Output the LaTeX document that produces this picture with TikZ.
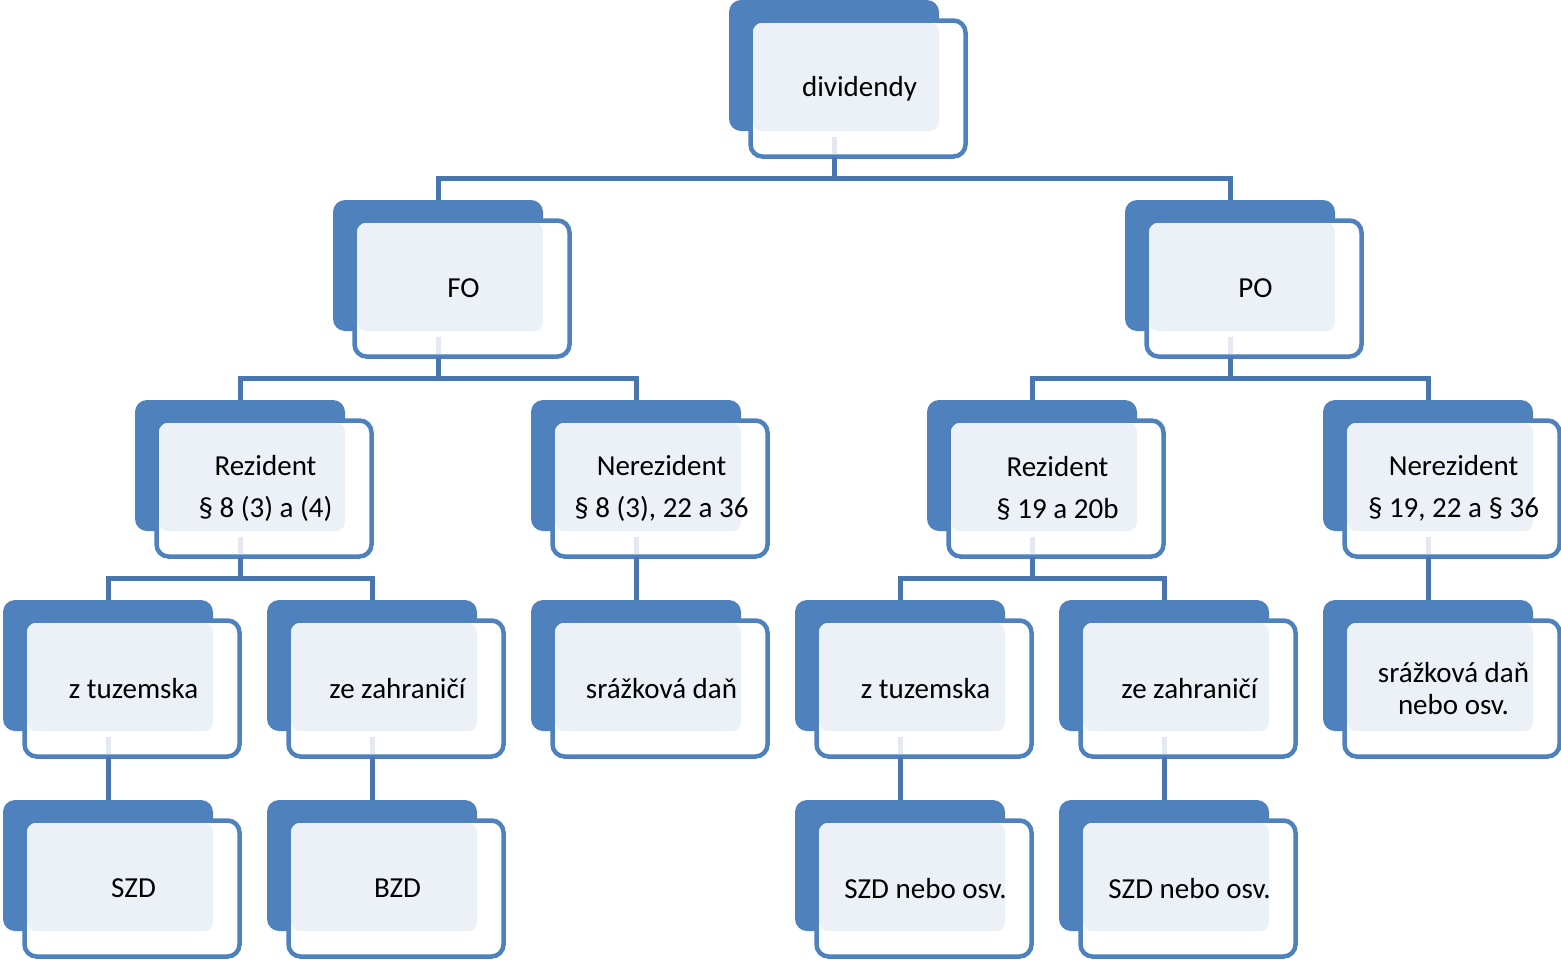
\documentclass[tikz,border=0pt]{standalone}
\usepackage{fontspec}
\setmainfont{Carlito}
\definecolor{darkb}{HTML}{4F81BD}
\definecolor{lightb}{HTML}{ECF0F7}
\definecolor{connc}{HTML}{4A76AF}
\definecolor{stubc}{HTML}{E4E9F1}
\tikzset{
  frame/.style={draw=darkb, line width=4.5pt, fill=white, rounded corners=12pt,
    minimum width=215pt, minimum height=136pt, inner sep=0pt},
  txt/.style={font=\fontsize{29}{33}\selectfont, align=center, text=black, inner sep=0pt},
  conn/.style={draw=connc, line width=5pt},
  stub/.style={draw=stubc, line width=5pt}
}
\newcommand\orgnode[4]{%
  \fill[darkb, rounded corners=12pt] (#1,#2) rectangle ({#1+210},{#2+131});
  \node[frame] (#3) at ({#1+129},{#2+88.5}) {};
  \fill[lightb, rounded corners=9pt] ({#1+24},{#2+23}) rectangle ({#1+210},{#2+131});
  \node[txt] (#3-t) at ({#1+130.5},{#2+88.5}) {#4};
  \coordinate (#3-top) at ({#1+105},#2);
  \coordinate (#3-bot) at ({#1+105},{#2+156.5});
}
\newcommand\stubline[2]{\draw[stub] ({#1+105},{#2+137}) -- ({#1+105},{#2+154});}
\begin{document}
\begin{tikzpicture}[x=1pt,y=-1pt]
\useasboundingbox (0,0) rectangle (1561,959);
\orgnode{729}{0}{div}{dividendy}
\orgnode{333}{200}{fo}{FO}
\orgnode{1125}{200}{po}{PO}
\orgnode{135}{400}{rfo}{Rezident\\[9pt]§ 8 (3) a (4)}
\orgnode{531}{400}{nfo}{Nerezident\\[9pt]§ 8 (3), 22 a 36}
\orgnode{927}{400}{rpo}{Rezident\\[9pt]§ 19 a 20b}
\orgnode{1323}{400}{npo}{Nerezident\\[9pt]§ 19, 22 a § 36}
\orgnode{3}{600}{tfo}{z tuzemska}
\orgnode{267}{600}{zfo}{ze zahraničí}
\orgnode{531}{600}{sfo}{srážková daň}
\orgnode{795}{600}{tpo}{z tuzemska}
\orgnode{1059}{600}{zpo}{ze zahraničí}
\orgnode{1323}{600}{spo}{srážková daň\\[-1pt]nebo osv.}
\orgnode{3}{800}{szd}{SZD}
\orgnode{267}{800}{bzd}{BZD}
\orgnode{795}{800}{szdpo}{SZD nebo osv.}
\orgnode{1059}{800}{szdpo2}{SZD nebo osv.}
% light stubs inside parents
\stubline{729}{0}
\stubline{333}{200}
\stubline{1125}{200}
\stubline{135}{400}
\stubline{531}{400}
\stubline{927}{400}
\stubline{1323}{400}
\stubline{3}{600}
\stubline{267}{600}
\stubline{795}{600}
\stubline{1059}{600}
% connectors
\draw[conn] (div-bot) -- ++(0,21.5);
\draw[conn] (fo-top) -- ++(0,-22) -| (po-top);
\draw[conn] (fo-bot) -- ++(0,21.5);
\draw[conn] (rfo-top) -- ++(0,-22) -| (nfo-top);
\draw[conn] (po-bot) -- ++(0,21.5);
\draw[conn] (rpo-top) -- ++(0,-22) -| (npo-top);
\draw[conn] (rfo-bot) -- ++(0,21.5);
\draw[conn] (tfo-top) -- ++(0,-22) -| (zfo-top);
\draw[conn] (nfo-bot) -- (sfo-top);
\draw[conn] (rpo-bot) -- ++(0,21.5);
\draw[conn] (tpo-top) -- ++(0,-22) -| (zpo-top);
\draw[conn] (npo-bot) -- (spo-top);
\draw[conn] (tfo-bot) -- (szd-top);
\draw[conn] (zfo-bot) -- (bzd-top);
\draw[conn] (tpo-bot) -- (szdpo-top);
\draw[conn] (zpo-bot) -- (szdpo2-top);
\end{tikzpicture}
\end{document}
